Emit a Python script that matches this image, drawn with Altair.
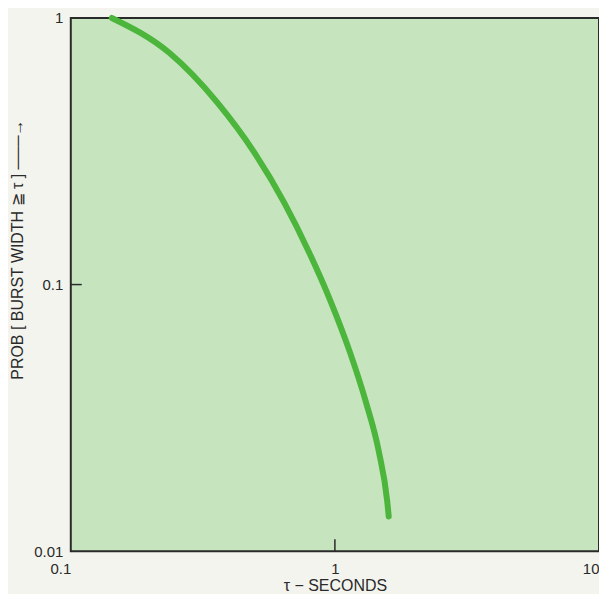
import altair as alt
import pandas as pd

# curve
tau = [0.143, 0.236, 0.359, 0.495, 0.642, 0.798, 0.966, 1.139, 1.309, 1.466, 1.578, 1.599]
prob = [1.0, 0.740, 0.481, 0.313, 0.2034, 0.1323, 0.0860, 0.0559, 0.0364, 0.0237, 0.0154, 0.0135]

x_ticks = [0.1, 1, 10]
y_ticks = [0.01, 0.1, 1]

df = pd.DataFrame({"tau": tau, "prob": prob, "order": list(range(len(tau)))})

W, H = 530, 535
FONT = "Liberation Sans"
AX = "#2a2a2a"

xscale = alt.Scale(type="log", domain=[0.1, 10], nice=False)
yscale = alt.Scale(type="log", domain=[0.01, 1], nice=False)

line = alt.Chart(df).mark_line(color="#4cb53b", strokeWidth=6, strokeCap="round",
                               interpolate="monotone").encode(
    x=alt.X("tau:Q", scale=xscale,
            axis=alt.Axis(values=x_ticks, format="~g", title="\u03c4  \u2212  SECONDS",
                          ticks=False, domain=False, grid=False, labelPadding=10,
                          labelFlush=False,
                          labelAlign={"expr": "datum.value < 0.5 || datum.value > 5 ? 'right' : 'center'"},
                          labelFontSize=15, labelColor=AX, titleFontSize=16,
                          titleFontWeight="normal", titleColor=AX, titlePadding=1,
                          labelFont=FONT, titleFont=FONT)),
    y=alt.Y("prob:Q", scale=yscale,
            axis=alt.Axis(values=y_ticks, format="~g",
                          title="PROB  [ BURST   WIDTH   \u2267   \u03c4 ]   \u2500\u2500\u2500\u2192",
                          ticks=False, domain=False, grid=False, labelPadding=8,
                          labelFontSize=15, labelColor=AX, titleFontSize=16,
                          titleFontWeight="normal", titleColor=AX,
                          titleX=-53, titleY=232, titleBaseline="middle",
                          titleAlign="center", titleAngle=270,
                          labelFont=FONT, titleFont=FONT)),
    order="order:O",
)

xtick = alt.Chart(pd.DataFrame({"v": [1]})).mark_rule(color=AX, strokeWidth=1.5).encode(
    x=alt.X("v:Q", scale=xscale), y=alt.value(H), y2=alt.value(H - 12))
ytick = alt.Chart(pd.DataFrame({"v": [0.1]})).mark_rule(color=AX, strokeWidth=1.5).encode(
    y=alt.Y("v:Q", scale=yscale), x=alt.value(0), x2=alt.value(11))

chart = alt.layer(line, xtick, ytick).properties(
    width=W, height=H, background="#f4f4ef",
    padding={"left": 1, "top": -3, "right": 0, "bottom": 0},
).configure_view(fill="#c6e5bf", stroke=AX, strokeWidth=2)

chart.save("out.html", embed_options={"renderer": "svg", "actions": False})
